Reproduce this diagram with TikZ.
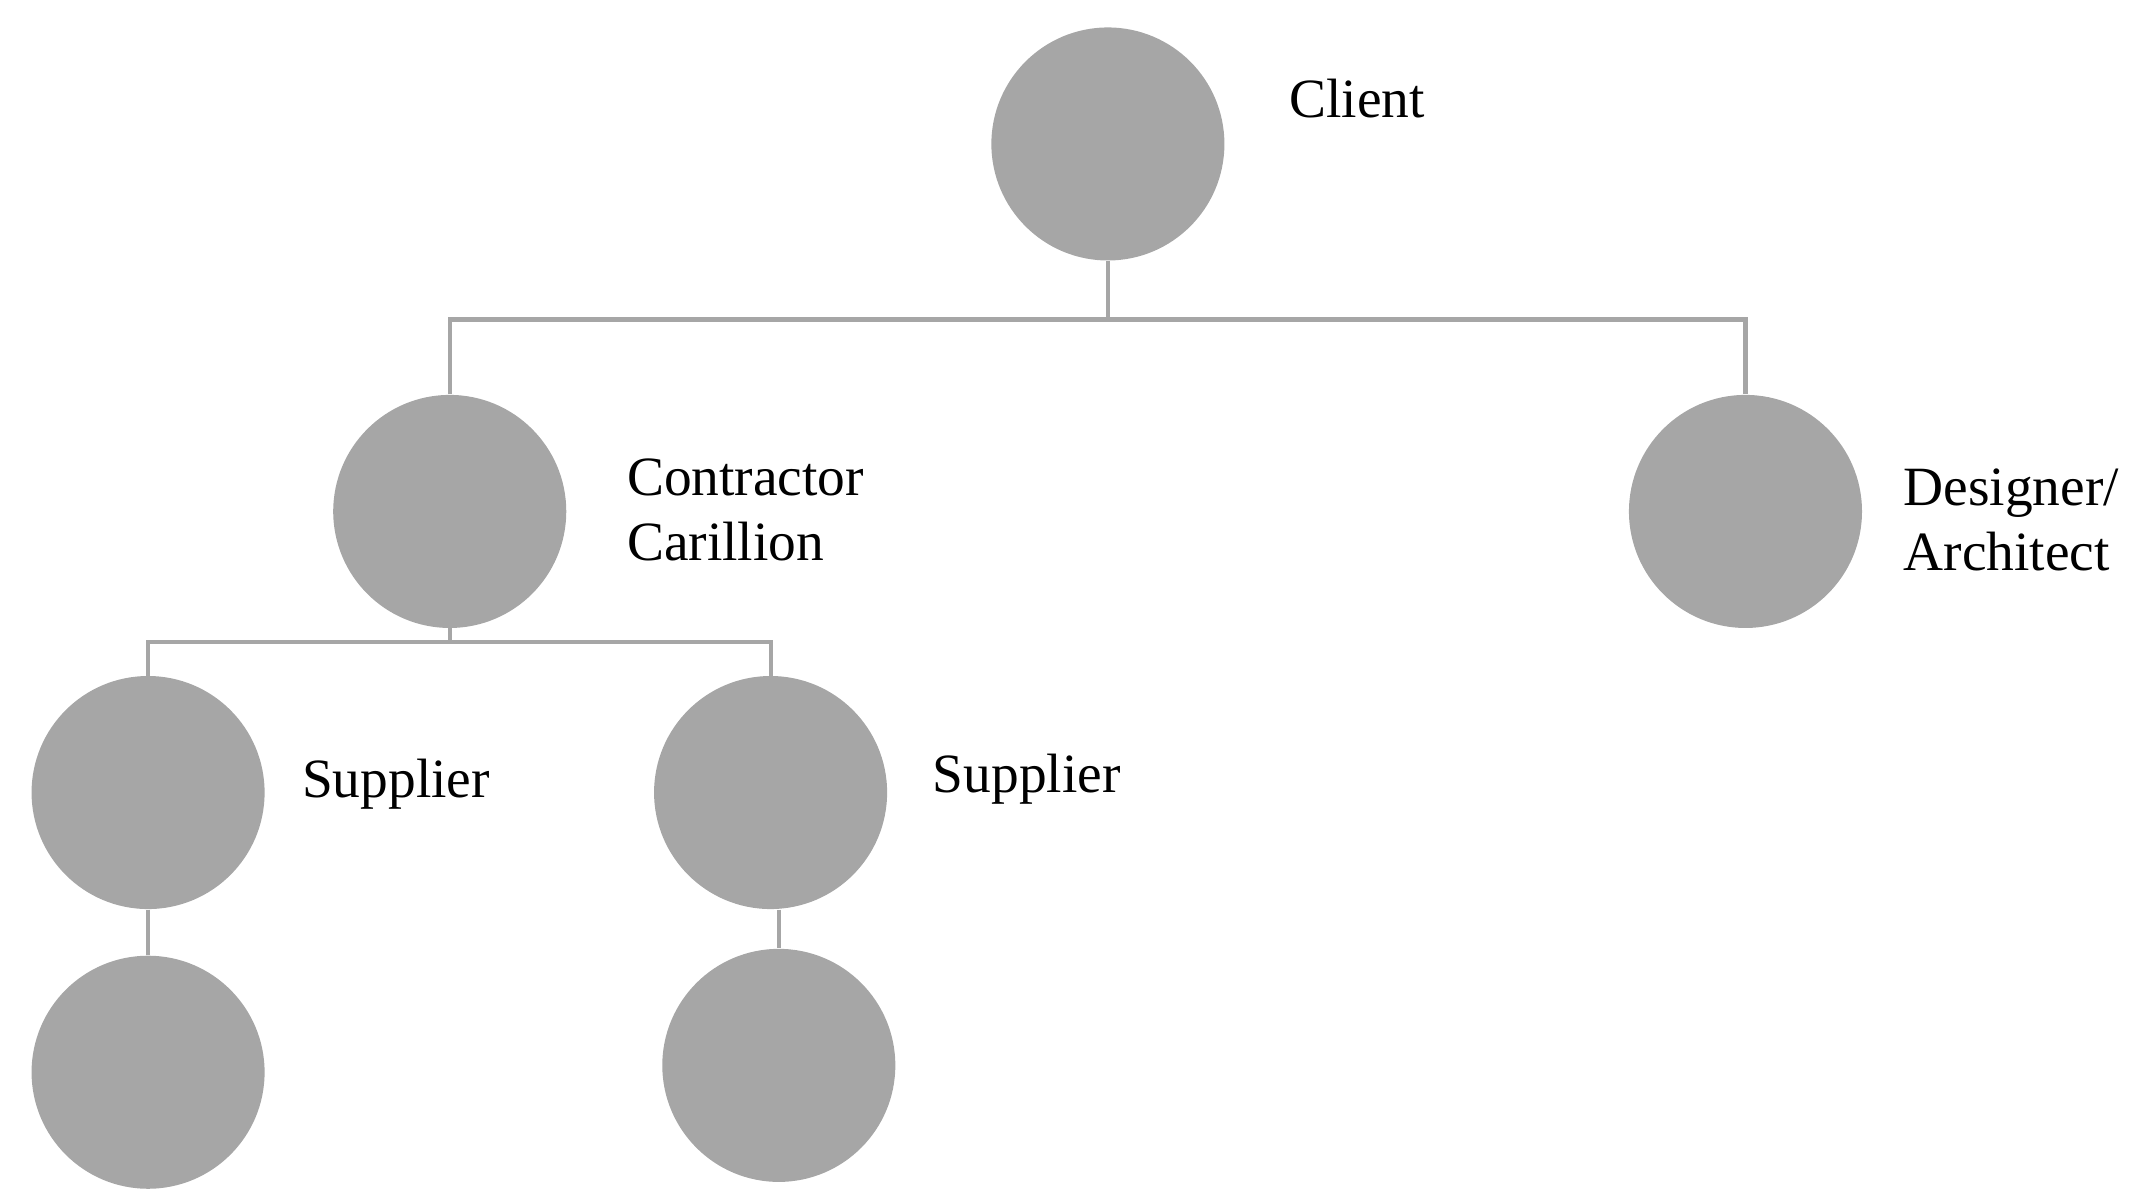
\documentclass[tikz,border=0pt]{standalone}
\usepackage{fontspec}
\setmainfont{Liberation Serif}
\begin{document}
\begin{tikzpicture}[x=0.02cm,y=-0.02cm,
  dot/.style={circle,fill=gr,draw=none,minimum size=3.4cm,inner sep=0pt},
  ln/.style={draw=gr,line width=1.7pt},
  lab/.style={anchor=west,font=\fontsize{23}{27}\selectfont,align=left,inner sep=0pt}]
\definecolor{gr}{HTML}{A6A6A6}
\useasboundingbox (0,0) rectangle (1560,875);
\node[dot] (client) at (808,105) {};
\node[dot] (contr) at (328,373) {};
\node[dot] (design) at (1273,373) {};
\node[dot] (s1) at (108,578) {};
\node[dot] (s2) at (562,578) {};
\node[dot] (b1) at (108,782) {};
\node[dot] (b2) at (568,777) {};
\coordinate (busL) at (328,233);
\coordinate (busR) at (1273,233);
\coordinate (busM) at (808,233);
\coordinate (bus2L) at (108,468);
\coordinate (bus2R) at (562,468);
\coordinate (bus2M) at (328,468);
\draw[ln] (client.south) -- (busM);
\draw[ln] (contr.north) -- (busL) -- (busR) -- (design.north);
\draw[ln] (contr.south) -- (bus2M);
\draw[ln] (s1.north) -- (bus2L) -- (bus2R) -- (s2.north);
\draw[ln] (s1.south) -- (b1.north);
\draw[ln] (s2.south -| b2.north) -- (b2.north);
\node[lab] (lc) at (940,72) {Client};
\node[lab] (lk) at (457,372) {Contractor\\Carillion};
\node[lab] (ld) at (1388,379) {Designer/\\Architect};
\node[lab] (l1) at (220,572) {Supplier};
\node[lab] (l2) at (680,568) {Supplier};
\end{tikzpicture}
\end{document}
